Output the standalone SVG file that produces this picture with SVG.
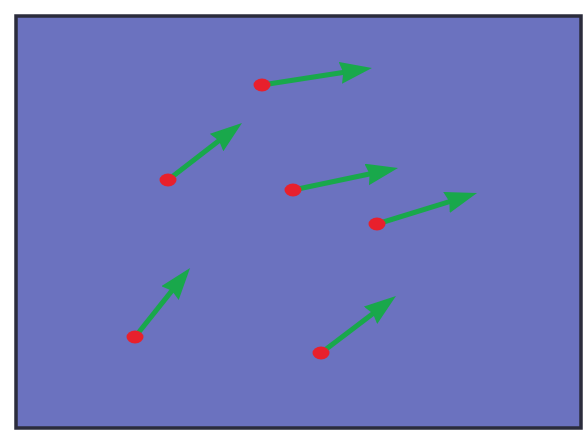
<svg xmlns="http://www.w3.org/2000/svg" width="586" height="431" viewBox="0 0 586 431">
<defs>
<style>
.arr{stroke:#19a84b;stroke-width:5;fill:none;marker-end:url(#head)}
.dot{fill:#e8202c}
</style>
<marker id="head" markerUnits="userSpaceOnUse" markerWidth="34" markerHeight="24" refX="4" refY="11" orient="auto">
<path d="M0,0 L32,11 L0,22 L3,11 z" fill="#19a84b"/>
</marker>
</defs>
<rect width="586" height="431" fill="#ffffff"/>
<rect x="16" y="16" width="565" height="412" fill="#6b72bf" stroke="#2b2c3c" stroke-width="3.5"/>
<g id="connectors">
<line class="arr" x1="262" y1="85" x2="344.3" y2="72.3"/>
<line class="arr" x1="168" y1="180" x2="219.8" y2="140.1"/>
<line class="arr" x1="293" y1="190" x2="370.6" y2="173.7"/>
<line class="arr" x1="377" y1="224" x2="450.3" y2="201.3"/>
<line class="arr" x1="135" y1="337" x2="172.6" y2="289.9"/>
<line class="arr" x1="321" y1="353" x2="373.7" y2="312.9"/>
</g>
<g id="dot1"><ellipse class="dot" cx="262" cy="85" rx="8.5" ry="6.5"/></g>
<g id="dot2"><ellipse class="dot" cx="168" cy="180" rx="8.5" ry="6.5"/></g>
<g id="dot3"><ellipse class="dot" cx="293" cy="190" rx="8.5" ry="6.5"/></g>
<g id="dot4"><ellipse class="dot" cx="377" cy="224" rx="8.5" ry="6.5"/></g>
<g id="dot5"><ellipse class="dot" cx="135" cy="337" rx="8.5" ry="6.5"/></g>
<g id="dot6"><ellipse class="dot" cx="321" cy="353" rx="8.5" ry="6.5"/></g>
</svg>
